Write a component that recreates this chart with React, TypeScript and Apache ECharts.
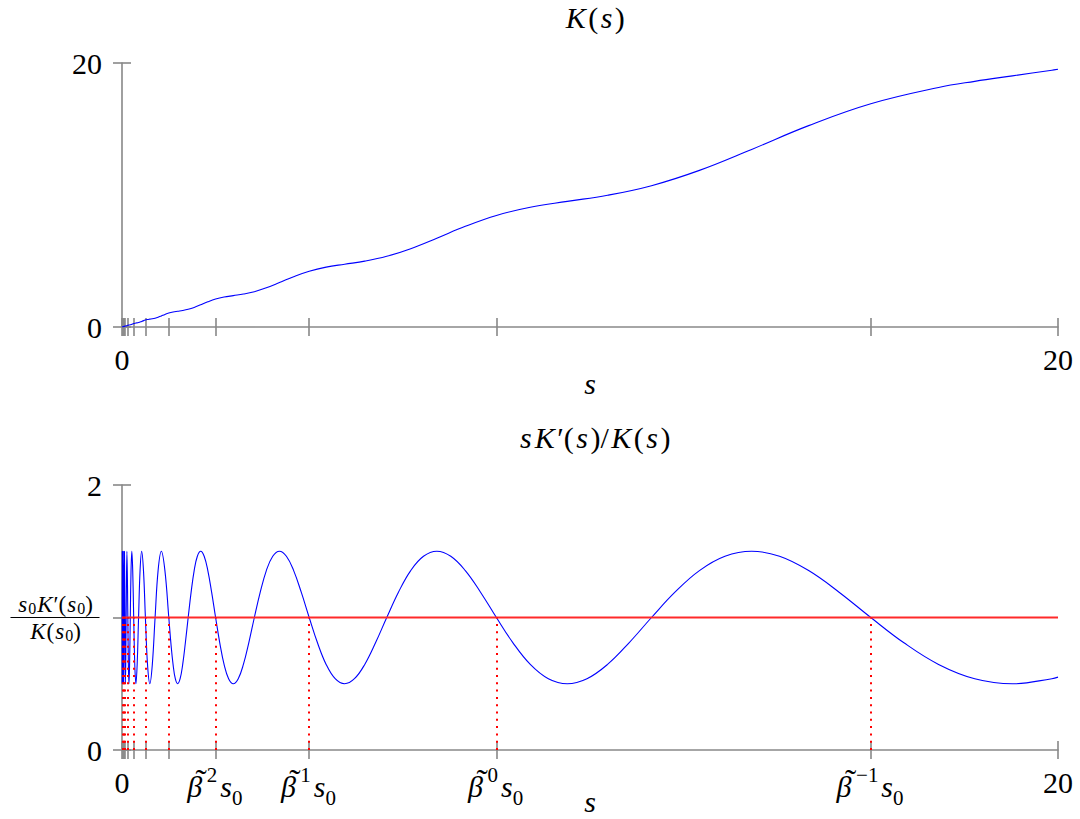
import React, { useEffect, useRef } from 'react';
import * as echarts from 'echarts';

// K(s)
const kS = [
  0, 0.0625, 0.0743, 0.0884, 0.1051, 0.125, 0.149, 0.177, 0.21, 0.25, 0.297, 0.354, 0.42,
  0.5, 0.545, 0.595, 0.648, 0.707, 0.771, 0.841, 0.917,
  1, 1.091, 1.189, 1.297, 1.414, 1.542, 1.682, 1.834,
  2, 2.181, 2.378, 2.594, 2.828, 3.084, 3.364, 3.668,
  4, 4.362, 4.757, 5.187, 5.657, 6.169, 6.727, 7.336,
  8, 8.724, 9.514, 10.375, 11.314, 12.338, 13.454, 14.672,
  16, 17.448, 18.221, 19.027, 19.87, 20,
];
const kVals = [
  0, 0.0661, 0.0743, 0.0837, 0.1051, 0.1321, 0.149, 0.1675, 0.21, 0.264, 0.297, 0.335, 0.42,
  0.528, 0.567, 0.595, 0.623, 0.669, 0.741, 0.841, 0.954,
  1.057, 1.134, 1.189, 1.247, 1.338, 1.483, 1.682, 1.907,
  2.114, 2.268, 2.378, 2.495, 2.676, 2.966, 3.364, 3.814,
  4.227, 4.536, 4.757, 4.988, 5.353, 5.933, 6.727, 7.628,
  8.454, 9.071, 9.514, 9.978, 10.706, 11.865, 13.454, 15.256,
  16.909, 18.142, 18.611, 19.027, 19.455, 19.524,
];

// sK'(s)/K(s)
const ratioS = [
  0.0039, 0.0046, 0.0055, 0.0066,
  0.0078, 0.0093, 0.011, 0.0131,
  0.0156, 0.0186, 0.0221, 0.0263,
  0.0313, 0.0372, 0.0442, 0.0526,
  0.0625, 0.0743, 0.0884, 0.1051,
  0.125, 0.136, 0.149, 0.162, 0.177, 0.193, 0.21, 0.229,
  0.25, 0.273, 0.297, 0.324, 0.354, 0.386, 0.42, 0.459,
  0.5, 0.545, 0.595, 0.648, 0.707, 0.771, 0.841, 0.917,
  1.0, 1.044, 1.091, 1.139, 1.189, 1.242, 1.297, 1.354, 1.414, 1.477, 1.542, 1.61, 1.682, 1.756, 1.834, 1.915,
  2.0, 2.089, 2.181, 2.278, 2.378, 2.484, 2.594, 2.709, 2.828, 2.954, 3.084, 3.221, 3.364, 3.513, 3.668, 3.83,
  4.0, 4.177, 4.362, 4.555, 4.757, 4.967, 5.187, 5.417, 5.657, 5.907, 6.169, 6.442, 6.727, 7.025, 7.336, 7.661,
  8.0, 8.354, 8.724, 9.11, 9.514, 9.935, 10.375, 10.834, 11.314, 11.815, 12.338, 12.884, 13.454, 14.05, 14.672, 15.322,
  16.0, 16.708, 17.448, 18.221, 19.027, 19.87, 20,
];
const ratioVals = [
  1, 0.5, 1, 1.5,
  1, 0.5, 1, 1.5,
  1, 0.5, 1, 1.5,
  1, 0.5, 1, 1.5,
  1, 0.5, 1, 1.5,
  1, 0.646, 0.5, 0.646, 1, 1.354, 1.5, 1.354,
  1, 0.646, 0.5, 0.646, 1, 1.354, 1.5, 1.354,
  1, 0.646, 0.5, 0.646, 1, 1.354, 1.5, 1.354,
  1, 0.809, 0.646, 0.538, 0.5, 0.538, 0.646, 0.809, 1, 1.191, 1.354, 1.462, 1.5, 1.462, 1.354, 1.191,
  1, 0.809, 0.646, 0.538, 0.5, 0.538, 0.646, 0.809, 1, 1.191, 1.354, 1.462, 1.5, 1.462, 1.354, 1.191,
  1, 0.809, 0.646, 0.538, 0.5, 0.538, 0.646, 0.809, 1, 1.191, 1.354, 1.462, 1.5, 1.462, 1.354, 1.191,
  1, 0.809, 0.646, 0.538, 0.5, 0.538, 0.646, 0.809, 1, 1.191, 1.354, 1.462, 1.5, 1.462, 1.354, 1.191,
  1, 0.809, 0.646, 0.538, 0.5, 0.538, 0.55,
];

// reference level s0 K'(s0)/K(s0) across the range
const levelS = [0, 20];
const s0Ratio = 1;

// x ticks: beta^k s0 with beta = 2, s0 = 8
const betaTicks = [0.015625, 0.03125, 0.0625, 0.125, 0.25, 0.5, 1, 2, 4, 8, 16];
const xTicks = [0, ...betaTicks, 20];
const xNumLabels = [0, 20];
const betaLabelValues = [2, 4, 8, 16];
const betaExponents = ['2', '1', '0', '−1'];

const GRAY = '#888888';
const SERIF = 'Liberation Serif';
const FS = 30;

const italic = { fontFamily: SERIF, fontStyle: 'italic', fontWeight: 'normal', fontSize: FS, color: '#000' };
const roman = { fontFamily: SERIF, fontStyle: 'normal', fontWeight: 'normal', fontSize: FS, color: '#000' };

function xAxesFor(gridIndex: number, withBeta: boolean, nameGap: number) {
  const out: any = {
    gridIndex,
    type: 'value',
    position: 'bottom',
    min: 0,
    max: 20,
    splitLine: { show: false },
    axisLine: { onZero: false, lineStyle: { color: GRAY, width: 1.6 } },
    axisTick: { show: true, inside: false, length: 9, customValues: xTicks, lineStyle: { color: GRAY, width: 1.6 } },
    axisLabel: {
      customValues: xNumLabels,
      margin: 17,
      fontFamily: SERIF,
      fontSize: FS,
      color: '#000',
      formatter: (v: number) => String(v),
    },
    name: 's',
    nameLocation: 'middle',
    nameGap,
    nameMoveOverlap: false,
    nameTextStyle: { fontFamily: SERIF, fontStyle: 'italic', fontSize: FS, color: '#000' },
  };
  const inn: any = {
    gridIndex,
    type: 'value',
    position: 'bottom',
    min: 0,
    max: 20,
    splitLine: { show: false },
    axisLine: { show: false, onZero: false },
    axisTick: { show: true, inside: true, length: 9, customValues: xTicks, lineStyle: { color: GRAY, width: 1.6 } },
    axisLabel: withBeta
      ? {
          customValues: betaLabelValues,
          margin: 14,
          formatter: (v: number) => {
            const i = betaLabelValues.indexOf(v);
            return i < 0 ? '' : `{b|β}{tl|˜}{sup|${betaExponents[i]}}{s|s}{sub|0}`;
          },
          rich: {
            b: { ...italic, width: 12, lineHeight: 44, verticalAlign: 'middle' },
            tl: { ...roman, fontSize: 34, width: 1, align: 'right', lineHeight: 32, verticalAlign: 'top' },
            s: { ...italic, lineHeight: 44, verticalAlign: 'middle', padding: [0, 0, 0, 3] },
            sup: { ...roman, fontSize: 21, lineHeight: 28, verticalAlign: 'top', padding: [0, 0, 0, 5] },
            sub: { ...roman, fontSize: 21, lineHeight: 26, verticalAlign: 'bottom' },
          },
        }
      : { show: false },
  };
  return [out, inn];
}

function yAxesFor(gridIndex: number, max: number, numLabels: number[], withFraction: boolean) {
  const base = {
    gridIndex,
    type: 'value',
    position: 'left',
    min: 0,
    max,
    interval: max === 20 ? 20 : 1,
    splitLine: { show: false },
  };
  return [
    {
      ...base,
      axisLine: { onZero: false, lineStyle: { color: GRAY, width: 1.6 } },
      axisTick: { show: true, inside: false, length: 9, lineStyle: { color: GRAY, width: 1.6 } },
      axisLabel: {
        customValues: numLabels,
        margin: 20,
        fontFamily: SERIF,
        fontSize: FS,
        color: '#000',
        formatter: (v: number) => String(v),
      },
    },
    {
      ...base,
      axisLine: { show: false, onZero: false },
      axisTick: { show: true, inside: true, length: 9, lineStyle: { color: GRAY, width: 1.6 } },
      axisLabel: withFraction
        ? {
            customValues: [s0Ratio],
            inside: false,
            margin: 67,
            align: 'center',
            verticalAlign: 'middle',
            formatter: () =>
              '{i|s}{sub|0}{i|K}{r|′(}{i|s}{sub|0}{r|)}\n{bar| }\n{i|K}{r|(}{i|s}{sub|0}{r|)}',
            rich: {
              i: { fontFamily: SERIF, fontStyle: 'italic', fontSize: 23, color: '#000', lineHeight: 25, padding: [0, 1, 0, 1] },
              r: { fontFamily: SERIF, fontSize: 23, color: '#000', lineHeight: 25 },
              sub: { fontFamily: SERIF, fontSize: 16, color: '#000', lineHeight: 14, verticalAlign: 'bottom' },
              bar: { width: 89, height: 1, lineHeight: 2, backgroundColor: '#000', fontSize: 1 },
            },
          }
        : { show: false },
    },
  ];
}

export default function App() {
  const ref = useRef<HTMLDivElement>(null);
  useEffect(() => {
    if (!ref.current) return;
    const chart = echarts.init(ref.current, undefined, { renderer: 'svg' });
    const kData = kS.map((s, i) => [s, kVals[i]]);
    const rData = ratioS.map((s, i) => [s, ratioVals[i]]);
    const levelData = levelS.map((s) => [s, s0Ratio]);
    const titleRich = {
      i: { ...italic, padding: [0, 1.5, 0, 1.5] },
      r: { ...roman, padding: [0, 1, 0, 1] },
    };
    chart.setOption({
      animation: false,
      backgroundColor: '#ffffff',
      title: [
        {
          text: '{i|K}{r|(}{i|s}{r|)}',
          left: 590,
          top: -3,
          textAlign: 'center',
          textStyle: { fontWeight: 'normal', rich: titleRich },
        },
        {
          text: '{i|s}{i|K}{r|′(}{i|s}{r|)/}{i|K}{r|(}{i|s}{r|)}',
          left: 590,
          top: 417,
          textAlign: 'center',
          textStyle: { fontWeight: 'normal', rich: titleRich },
        },
      ],
      grid: [
        { left: 122, top: 63, width: 936, height: 264, outerBoundsMode: 'none', containLabel: false },
        { left: 122, top: 485, width: 936, height: 265, outerBoundsMode: 'none', containLabel: false },
      ],
      xAxis: [...xAxesFor(0, false, 41), ...xAxesFor(1, true, 36)],
      yAxis: [...yAxesFor(0, 20, [0, 20], false), ...yAxesFor(1, 2, [0, 2], true)],
      series: [
        {
          type: 'line',
          xAxisIndex: 0,
          yAxisIndex: 0,
          data: kData,
          showSymbol: false,
          smooth: 0.4,
          lineStyle: { color: '#0000ff', width: 1.1 },
        },
        {
          type: 'line',
          xAxisIndex: 2,
          yAxisIndex: 2,
          data: levelData,
          showSymbol: false,
          z: 4,
          itemStyle: { color: '#ff0000' },
          lineStyle: { color: '#ff2a2a', width: 1.9 },
        },
        {
          type: 'line',
          xAxisIndex: 2,
          yAxisIndex: 2,
          data: rData,
          showSymbol: false,
          smooth: 0.4,
          z: 3,
          lineStyle: { color: '#0000ff', width: 1.1 },
          markLine: {
            silent: true,
            symbol: 'none',
            label: { show: false },
            animation: false,
            lineStyle: { color: '#ff0000', width: 2, type: [2, 5.3] },
            data: betaTicks.map((b) => [{ coord: [b, 0] }, { coord: [b, s0Ratio] }]),
          },
        },
      ],
    });
    return () => chart.dispose();
  }, []);
  return (
    <div
      ref={ref}
      style={{ position: 'absolute', left: 0, top: 0, width: 1080, height: 819, background: '#fff' }}
    />
  );
}
